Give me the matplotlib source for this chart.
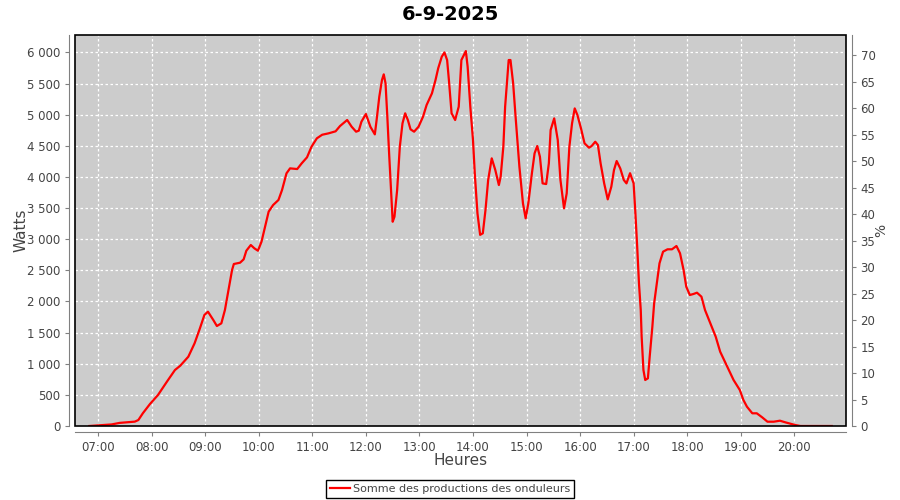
import matplotlib
matplotlib.use("Agg")
import matplotlib.pyplot as plt
import matplotlib.dates as mdates
from matplotlib.patches import Rectangle
from matplotlib.ticker import FuncFormatter, MultipleLocator
import pandas as pd

title = "6-9-2025"
series_name = "Somme des productions des onduleurs"

times = ["06:50", "07:15", "07:24", "07:41", "07:45", "07:50", "07:58", "08:07", "08:17", "08:26",
         "08:32", "08:41", "08:48", "08:54", "08:59", "09:03", "09:09", "09:13", "09:18", "09:22",
         "09:26", "09:30", "09:32", "09:39", "09:43", "09:46", "09:51", "09:55", "09:59", "10:03",
         "10:07", "10:11", "10:16", "10:22", "10:26", "10:31", "10:35", "10:43", "10:48", "10:54",
         "10:59", "11:05", "11:11", "11:18", "11:26", "11:31", "11:39", "11:44", "11:49", "11:52",
         "11:55", "12:00", "12:05", "12:10", "12:12", "12:15", "12:18", "12:20", "12:22", "12:24",
         "12:26", "12:28", "12:30", "12:32", "12:35", "12:38", "12:41", "12:44", "12:47", "12:50",
         "12:54", "12:59", "13:04", "13:08", "13:14", "13:18", "13:21", "13:25", "13:28", "13:31",
         "13:33", "13:36", "13:40", "13:44", "13:47", "13:52", "13:54", "13:57", "14:00", "14:02",
         "14:05", "14:08", "14:11", "14:14", "14:17", "14:21", "14:25", "14:29", "14:31", "14:34",
         "14:36", "14:40", "14:42", "14:45", "14:48", "14:52", "14:56", "14:59", "15:02", "15:06",
         "15:09", "15:12", "15:15", "15:18", "15:22", "15:25", "15:27", "15:31", "15:35", "15:38",
         "15:42", "15:45", "15:48", "15:51", "15:54", "15:57", "16:01", "16:05", "16:10", "16:13",
         "16:17", "16:20", "16:23", "16:27", "16:31", "16:35", "16:38", "16:41", "16:45", "16:49",
         "16:52", "16:56", "17:00", "17:02", "17:04", "17:06", "17:08", "17:09", "17:11", "17:13",
         "17:16", "17:18", "17:21", "17:23", "17:26", "17:29", "17:33", "17:38", "17:43", "17:48",
         "17:52", "17:56", "17:59", "18:03", "18:07", "18:11", "18:16", "18:20", "18:26", "18:32",
         "18:37", "18:45", "18:52", "18:59", "19:03", "19:07", "19:13", "19:18", "19:24", "19:30",
         "19:37", "19:44", "19:50", "19:57", "20:01", "20:07", "20:42"]

watts = [0, 25, 50, 70, 96, 204, 353, 498, 712, 899,
         969, 1113, 1328, 1569, 1783, 1836, 1702, 1606, 1649, 1863,
         2184, 2505, 2602, 2623, 2677, 2815, 2907, 2854, 2815, 2960,
         3201, 3442, 3549, 3630, 3790, 4058, 4138, 4127, 4218, 4315,
         4485, 4620, 4678, 4700, 4733, 4818, 4915, 4807, 4727, 4743,
         4888, 5011, 4807, 4684, 4915, 5289, 5557, 5648, 5503, 4968,
         4379, 3843, 3281, 3361, 3790, 4485, 4861, 5022, 4915, 4765,
         4727, 4807, 4968, 5155, 5343, 5557, 5745, 5931, 6000, 5878,
         5557, 5022, 4915, 5128, 5878, 6022, 5771, 5128, 4593, 4058,
         3416, 3070, 3095, 3469, 3951, 4299, 4111, 3870, 4004, 4485,
         5128, 5878, 5878, 5503, 4915, 4165, 3576, 3336, 3576, 4058,
         4379, 4497, 4325, 3897, 3886, 4218, 4754, 4941, 4593, 3951,
         3496, 3736, 4485, 4861, 5101, 4995, 4781, 4540, 4470, 4497,
         4566, 4513, 4218, 3897, 3640, 3843, 4111, 4256, 4138, 3951,
         3897, 4060, 3897, 3416, 2880, 2292, 1863, 1434, 899, 739,
         766, 1113, 1595, 1970, 2292, 2613, 2800, 2838, 2838, 2891,
         2774, 2505, 2237, 2104, 2120, 2141, 2077, 1863, 1649, 1434,
         1193, 952, 739, 578, 418, 310, 204, 204, 140, 69,
         69, 85, 59, 32, 16, 0, 0]

x_ticks = ["07:00", "08:00", "09:00", "10:00", "11:00", "12:00", "13:00",
           "14:00", "15:00", "16:00", "17:00", "18:00", "19:00", "20:00"]

day = "2025-09-06 "
t = pd.to_datetime([day + s for s in times])
tick_pos = pd.to_datetime([day + s for s in x_ticks])

plt.rcParams['font.family'] = ['DejaVu Sans']
fig = plt.figure(figsize=(9, 5), dpi=100)
ax = fig.add_axes([75/900, 1 - 426/500, (846-75)/900, (426-35)/500])
ax.set_facecolor("#cccccc")

ax.plot(t, watts, color="#ff0000", lw=1.6, label=series_name, zorder=3)

ax.set_xlim(pd.Timestamp(day + "06:34"), pd.Timestamp(day + "20:58"))
ax.set_ylim(0, 6280)
ax.set_xticks(tick_pos)
ax.xaxis.set_major_formatter(mdates.DateFormatter("%H:%M"))
ax.yaxis.set_major_locator(MultipleLocator(500))
ax.yaxis.set_major_formatter(FuncFormatter(lambda v, p: f"{int(v):,}".replace(",", " ")))

ax.grid(True, color="white", linestyle=(0, (2, 2)), linewidth=0.9)
ax.set_axisbelow(True)

gray = "#808080"
txt = "#444444"
for s in ["top", "right"]:
    ax.spines[s].set_visible(False)
for s in ["left", "bottom"]:
    ax.spines[s].set_position(("outward", 4))
    ax.spines[s].set_color(gray)
ax.tick_params(axis="both", colors=gray, labelcolor=txt, labelsize=8.5, length=3, width=0.8)

ax.add_patch(Rectangle((0, 0), 1, 1, transform=ax.transAxes, fill=False,
                       edgecolor="black", lw=1.2, clip_on=False, zorder=5))

ax2 = ax.twinx()
ax2.set_ylim(0, 73.8)
ax2.yaxis.set_major_locator(MultipleLocator(5))
for s in ["top", "left", "bottom"]:
    ax2.spines[s].set_visible(False)
ax2.spines["right"].set_position(("outward", 4))
ax2.spines["right"].set_color(gray)
ax2.tick_params(axis="y", colors=gray, labelcolor=txt, labelsize=8.5, length=3, width=0.8)
ax2.set_ylabel("%", color=txt, fontsize=10)
ax2.yaxis.set_label_coords((874 - 75) / 771, 0.5)

ax.set_ylabel("Watts", color=txt, fontsize=11)
ax.yaxis.set_label_coords((29 - 75) / 771, 0.5)
ax.set_xlabel("Heures", color=txt, fontsize=11)
ax.xaxis.set_label_coords(0.5, (426 - 453) / 391)
fig.suptitle(title, fontsize=14, fontweight="bold", y=0.99)

leg = fig.legend(loc="lower center", bbox_to_anchor=(0.5, 0.004), fancybox=False,
                 edgecolor="black", framealpha=1, fontsize=8, borderaxespad=0,
                 handlelength=1.8, borderpad=0.35, handletextpad=0.3)
leg.get_frame().set_linewidth(1.0)
for text in leg.get_texts():
    text.set_color(txt)

fig.savefig("out.png", dpi=100)
